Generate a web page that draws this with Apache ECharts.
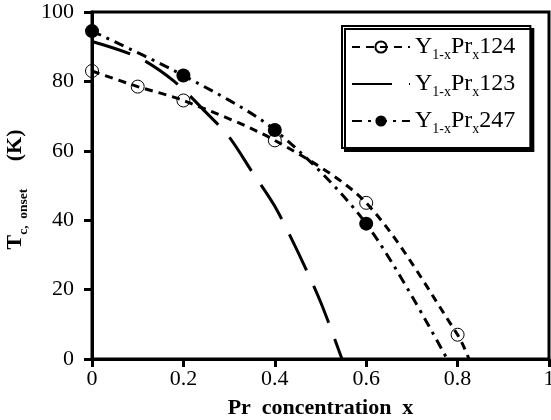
<!DOCTYPE html>
<html>
<head>
<meta charset="utf-8">
<script src="https://cdn.jsdelivr.net/npm/echarts@6/dist/echarts.min.js"></script>
<style>
  html, body { margin: 0; padding: 0; background: #fff; }
  #chart { width: 551px; height: 420px; }
</style>
</head>
<body>
<div id="chart"></div>
<script>
// Y1-xPrx124 (open circles)
const x124 = [0, 0.1, 0.2, 0.4, 0.6, 0.8];
const y124 = [83, 78.5, 74.5, 63, 45, 7];
const end124 = [0.825, 0];
// Y1-xPrx123 (long dash, no markers)
const x123 = [0, 0.1, 0.18, 0.25, 0.3, 0.35, 0.4, 0.45, 0.5, 0.547];
const y123 = [91.5, 87, 80, 71, 64, 54, 44, 31, 16.5, 0];
// Y1-xPrx247 (filled circles)
const x247 = [0, 0.2, 0.4, 0.6];
const y247 = [94.5, 81.7, 66, 39];
const end247 = [0.777, 0];

const xTicks = [0, 0.2, 0.4, 0.6, 0.8, 1];
const yTicks = [0, 20, 40, 60, 80, 100];

const names = ['124', '123', '247'];

function pts(xs, ys, end) {
    let out = xs.map((x, i) => [x, ys[i]]);
    if (end) out.push({ value: end, symbol: 'none' });
    return out;
}

const serif = 'Liberation Serif';
let chart = echarts.init(document.getElementById('chart'));
const option = {
    animation: false,
    grid: {
        left: 92, right: 2, top: 12, bottom: 61,
        containLabel: false, outerBoundsMode: 'none',
        show: true, borderColor: '#000', borderWidth: 3
    },
    legend: {
        left: 342, top: 26,
        orient: 'vertical',
        padding: [9, 15, 12, 9],
        itemGap: 10,
        itemWidth: 58,
        itemHeight: 14,
        backgroundColor: '#fff',
        borderColor: '#000',
        borderWidth: 2,
        shadowColor: '#000',
        shadowOffsetX: 3,
        shadowOffsetY: 3,
        shadowBlur: 0,
        data: [
            { name: names[0] },
            { name: names[1], itemStyle: { color: 'rgba(0,0,0,0)', borderWidth: 0 } },
            { name: names[2] }
        ],
        formatter: function (name) {
            return '{b|Y}{s|1-x}{b|Pr}{s|x}{b|' + name + '}';
        },
        textStyle: {
            rich: {
                b: { fontFamily: serif, fontSize: 24, color: '#000', lineHeight: 30, verticalAlign: 'middle' },
                s: { fontFamily: serif, fontSize: 14, color: '#000', lineHeight: 8, verticalAlign: 'bottom' }
            }
        }
    },
    xAxis: {
        type: 'value', min: 0, max: 1, interval: 0.2,
        name: 'Pr  concentration  x',
        nameLocation: 'middle', nameGap: 38,
        nameTextStyle: { fontFamily: serif, fontSize: 22, fontWeight: 'bold', color: '#000' },
        axisLine: { lineStyle: { color: '#000', width: 3 } },
        axisTick: { length: 8, lineStyle: { color: '#000', width: 3 } },
        axisLabel: {
            margin: 9, fontFamily: serif, fontSize: 22, color: '#000',
            formatter: v => String(xTicks.find(t => Math.abs(t - v) < 1e-9) ?? v)
        },
        splitLine: { show: false }
    },
    yAxis: {
        type: 'value', min: 0, max: 100, interval: 20,
        name: '{t|T}{s|c,  onset}{k|     (K)}',
        nameLocation: 'middle', nameGap: 59,
        nameTextStyle: {
            padding: [0, 8, 0, 0],
            rich: {
                t: { fontFamily: serif, fontSize: 22, fontWeight: 'bold', color: '#000', lineHeight: 30, verticalAlign: 'middle' },
                s: { fontFamily: serif, fontSize: 13.5, fontWeight: 'bold', color: '#000', lineHeight: 8, verticalAlign: 'bottom' },
                k: { fontFamily: serif, fontSize: 22, fontWeight: 'bold', color: '#000', lineHeight: 30, verticalAlign: 'middle' }
            }
        },
        axisLine: { show: true, lineStyle: { color: '#000', width: 3 } },
        axisTick: { show: true, length: 8, lineStyle: { color: '#000', width: 3 } },
        axisLabel: {
            margin: 18, fontFamily: serif, fontSize: 22, color: '#000',
            formatter: v => String(yTicks.find(t => t === v) ?? v)
        },
        splitLine: { show: false }
    },
    series: [
        {
            name: names[0], type: 'line', smooth: 0.3,
            data: pts(x124, y124, end124),
            symbol: 'circle', symbolSize: 13,
            itemStyle: { color: 'rgba(0,0,0,0)', borderColor: '#000', borderWidth: 1 },
            lineStyle: { color: '#000', width: 3, type: [8, 6] }
        },
        {
            name: names[1], type: 'line', smooth: 0.3,
            data: pts(x123, y123),
            showSymbol: false, symbol: 'none',
            itemStyle: { color: '#000' },
            lineStyle: { color: '#000', width: 3, type: [40, 17] }
        },
        {
            name: names[2], type: 'line', smooth: 0.3,
            data: pts(x247, y247, end247),
            symbol: 'circle', symbolSize: 14,
            itemStyle: { color: '#000' },
            lineStyle: { color: '#000', width: 3, type: [10, 6, 3, 6] }
        }
    ]
};
chart.setOption(option);
</script>
</body>
</html>
